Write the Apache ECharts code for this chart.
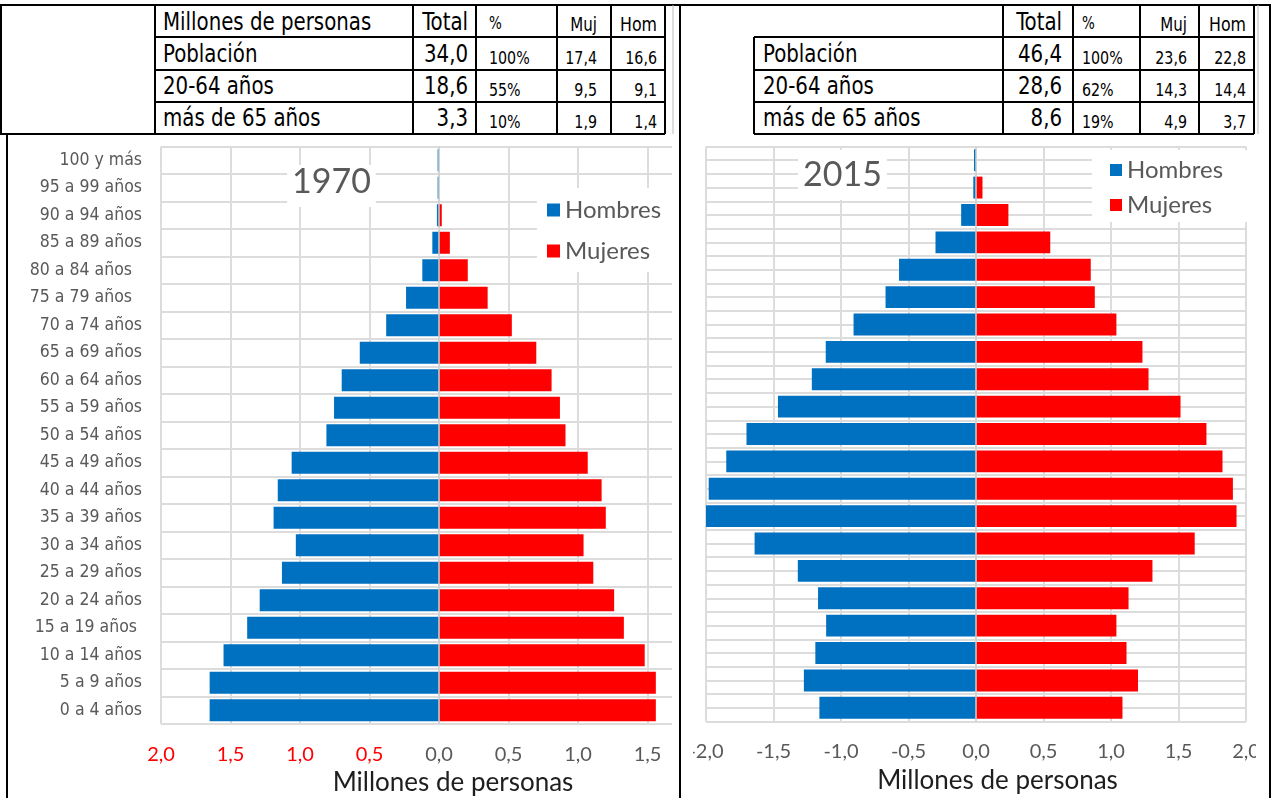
<!DOCTYPE html>
<html><head><meta charset="utf-8">
<script src="https://cdn.jsdelivr.net/npm/echarts@6/dist/echarts.min.js"></script>
<style>
html,body{margin:0;padding:0;background:#fff;width:1275px;height:798px;overflow:hidden;position:relative;}
#frame{position:absolute;left:0;top:0;width:1275px;height:798px;}
.wrap{position:absolute;overflow:hidden;}
</style></head><body>
<svg id="frame" width="1275" height="798" xmlns="http://www.w3.org/2000/svg"></svg>
<div class="wrap" style="left:8px;top:136px;width:664px;height:662px"><div id="c1" style="width:760px;height:662px"></div></div>
<div class="wrap" style="left:693px;top:136px;width:563px;height:662px"><div id="c2" style="width:600px;height:662px"></div></div>
<script>
// ---------- data ----------
const ageGroups = ['0 a 4 años','5 a 9 años','10 a 14 años','15 a 19 años ','20 a 24 años','25 a 29 años','30 a 34 años','35 a 39 años','40 a 44 años','45 a 49 años','50 a 54 años','55 a 59 años','60 a 64 años','65 a 69 años','70 a 74 años','75 a 79 años  ','80 a 84 años  ','85 a 89 años','90 a 94 años','95 a 99 años','100 y más'];
const hombres1970 = [1.65,1.65,1.55,1.38,1.29,1.13,1.03,1.19,1.16,1.06,0.81,0.755,0.70,0.57,0.38,0.237,0.12,0.048,0.015,0.01,0.01];
const mujeres1970 = [1.56,1.56,1.48,1.33,1.26,1.11,1.04,1.20,1.17,1.07,0.91,0.87,0.81,0.70,0.524,0.35,0.207,0.078,0.02,0,0];
const hombres2015 = [1.16,1.275,1.19,1.11,1.17,1.32,1.64,2.0,1.98,1.85,1.70,1.467,1.216,1.113,0.907,0.67,0.57,0.30,0.11,0.02,0.015];
const mujeres2015 = [1.085,1.20,1.115,1.04,1.13,1.307,1.62,1.93,1.903,1.826,1.707,1.515,1.278,1.233,1.04,0.88,0.85,0.55,0.24,0.048,0];
const xTicks = {min:-2, max:2, interval:0.5};
const seriesNames = ['Hombres','Mujeres'];
const axisTitle = 'Millones de personas';

const tableHeader1970 = 'Millones de personas';
const tableColumns = ['Total','%','Muj','Hom'];
const tableRows = ['Población','20-64 años','más de 65 años'];
const total1970 = ['34,0','18,6','3,3'];
const pct1970 = ['100%','55%','10%'];
const muj1970 = ['17,4','9,5','1,9'];
const hom1970 = ['16,6','9,1','1,4'];
const total2015 = ['46,4','28,6','8,6'];
const pct2015 = ['100%','62%','19%'];
const muj2015 = ['23,6','14,3','4,9'];
const hom2015 = ['22,8','14,4','3,7'];

// ---------- tables (SVG) ----------
const NS = 'http://www.w3.org/2000/svg';
const svg = document.getElementById('frame');
const NARROW = "'Liberation Sans Narrow','Arial Narrow','DejaVu Sans Condensed',sans-serif";
function ln(x1,y1,x2,y2,c,w){const e=document.createElementNS(NS,'line');e.setAttribute('x1',x1);e.setAttribute('y1',y1);e.setAttribute('x2',x2);e.setAttribute('y2',y2);e.setAttribute('stroke',c||'#000');e.setAttribute('stroke-width',w||2);svg.appendChild(e);}
function tx(s,x,y,size,anchor){const e=document.createElementNS(NS,'text');e.setAttribute('x',0);e.setAttribute('y',0);
  e.setAttribute('transform','translate('+x+','+y+') scale(0.88,1)');
  e.setAttribute('font-size',size);e.setAttribute('font-family',NARROW);e.setAttribute('fill','#000');e.setAttribute('text-anchor',anchor||'start');e.textContent=s;svg.appendChild(e);}
// outer frame
ln(0,5,1271,5); ln(1,5,1,134); ln(0,134,665,134); ln(7,134,7,798); ln(680,5,680,798); ln(1270,5,1270,798);
ln(673,5,673,134,'#bbb',1); ln(1258,5,1258,134,'#bbb',1);
// left table
[155,413,476,557,611,665].forEach(x=>ln(x,5,x,134));
[37,70,102].forEach(y=>ln(155,y,665,y));
// right table
[1003,1073,1140,1199,1254].forEach(x=>ln(x,5,x,134)); ln(754,37,754,134);
[37,70,102,134].forEach(y=>ln(754,y,1254,y));
const rowBase=[62,94,126];
function fillTable(lx,totR,pctL,mujR,homR,tot,pct,muj,hom){
  tx(tableColumns[0],totR,30,25,'end'); tx(tableColumns[1],pctL,29,17,'start');
  tx(tableColumns[2],mujR,31,19,'end'); tx(tableColumns[3],homR,31,20,'end');
  tableRows.forEach((r,i)=>{const b=rowBase[i];
    tx(r,lx,b,25,'start'); tx(tot[i],totR,b,25,'end'); tx(pct[i],pctL,b+2,18,'start');
    tx(muj[i],mujR,b+2,18,'end'); tx(hom[i],homR,b+2,18,'end');});
}
tx(tableHeader1970,163,30,25,'start');
fillTable(163,468,489,597,657,total1970,pct1970,muj1970,hom1970);
fillTable(763,1062,1082,1187,1246,total2015,pct2015,muj2015,hom2015);

// ---------- charts ----------
const GRID_COLOR = '#dcdcdc';
const fmtAbs = v => Math.abs(v).toFixed(1).replace('.', ',');
const fmtSigned = v => v.toFixed(1).replace('.', ',');
function zeroLine(){return {silent:true,symbol:'none',label:{show:false},lineStyle:{color:'#d0d0d0',type:'solid',width:1.5},data:[{xAxis:0}]};}

const c1 = echarts.init(document.getElementById('c1'));
c1.setOption({
  animation:false,
  title:{text:'1970',left:279,top:29,padding:[0,5,8,5],backgroundColor:'#fff',
    textStyle:{fontFamily:'Lato',fontSize:34,fontWeight:'normal',color:'#595959',lineHeight:34}},
  legend:{orient:'vertical',left:529,top:52,padding:[10,20,9,10],backgroundColor:'#fff',itemWidth:13,itemHeight:13,itemGap:17,icon:'rect',
    textStyle:{fontFamily:'Lato',fontSize:24,color:'#595959',lineHeight:24},data:seriesNames},
  grid:{left:153,top:10.5,width:556,height:577.5,outerBoundsMode:'none'},
  xAxis:{type:'value',min:xTicks.min,max:xTicks.max,interval:xTicks.interval,
    axisLine:{show:false},axisTick:{show:false},splitLine:{lineStyle:{color:GRID_COLOR,width:2}},
    axisLabel:{margin:21,fontFamily:'Lato',fontSize:20,color:v=>v<0?'#ff0000':'#595959',formatter:fmtAbs},
    name:axisTitle,nameLocation:'middle',nameGap:42,
    nameTextStyle:{fontFamily:'Lato',fontSize:26,color:'#1e1e1e',padding:[0,0,0,28]}},
  yAxis:{type:'category',data:ageGroups,axisLine:{show:false},axisTick:{show:false},
    splitLine:{show:true,lineStyle:{color:GRID_COLOR,width:2}},
    axisLabel:{margin:19,fontFamily:NARROW,fontSize:17.5,color:'#595959'}},
  series:[
    {name:seriesNames[0],type:'bar',stack:'t',barCategoryGap:'20%',data:hombres1970.map(v=>-v),itemStyle:{color:'#0070C0'}},
    {name:seriesNames[1],type:'bar',stack:'t',barCategoryGap:'20%',data:mujeres1970,itemStyle:{color:'#FF0000'},markLine:zeroLine()}
  ]
});

const c2 = echarts.init(document.getElementById('c2'));
c2.setOption({
  animation:false,
  title:{text:'2015',left:105,top:14,padding:[8,5,8,5],backgroundColor:'#fff',
    textStyle:{fontFamily:'Lato',fontSize:34,fontWeight:'normal',color:'#595959',lineHeight:34}},
  legend:{orient:'vertical',left:399,top:14,padding:[8,30,5,18],backgroundColor:'#fff',itemWidth:12,itemHeight:12,itemGap:11,icon:'rect',
    textStyle:{fontFamily:'Lato',fontSize:24,color:'#595959',lineHeight:24},data:seriesNames},
  grid:{left:13,top:10.5,width:540,height:575,outerBoundsMode:'none'},
  xAxis:{type:'value',min:xTicks.min,max:xTicks.max,interval:xTicks.interval,
    axisLine:{show:false},axisTick:{show:false},splitLine:{lineStyle:{color:GRID_COLOR,width:2}},
    axisLabel:{margin:20,fontFamily:'Lato',fontSize:20,color:'#595959',formatter:fmtSigned},
    name:axisTitle,nameLocation:'middle',nameGap:46,
    nameTextStyle:{fontFamily:'Lato',fontSize:26,color:'#1e1e1e',padding:[0,0,0,43]}},
  yAxis:[
    {type:'category',data:ageGroups,axisLine:{show:false},axisTick:{show:false},axisLabel:{show:false},splitLine:{show:false}},
    {type:'value',min:0,max:ageGroups.length*2,interval:1,position:'left',axisLine:{show:false},axisTick:{show:false},axisLabel:{show:false},
      splitLine:{show:true,lineStyle:{color:GRID_COLOR,width:2}}}
  ],
  series:[
    {name:seriesNames[0],type:'bar',stack:'t',yAxisIndex:0,barCategoryGap:'20%',data:hombres2015.map(v=>-v),itemStyle:{color:'#0070C0'}},
    {name:seriesNames[1],type:'bar',stack:'t',yAxisIndex:0,barCategoryGap:'20%',data:mujeres2015,itemStyle:{color:'#FF0000'},markLine:zeroLine()}
  ]
});
</script>
</body></html>
